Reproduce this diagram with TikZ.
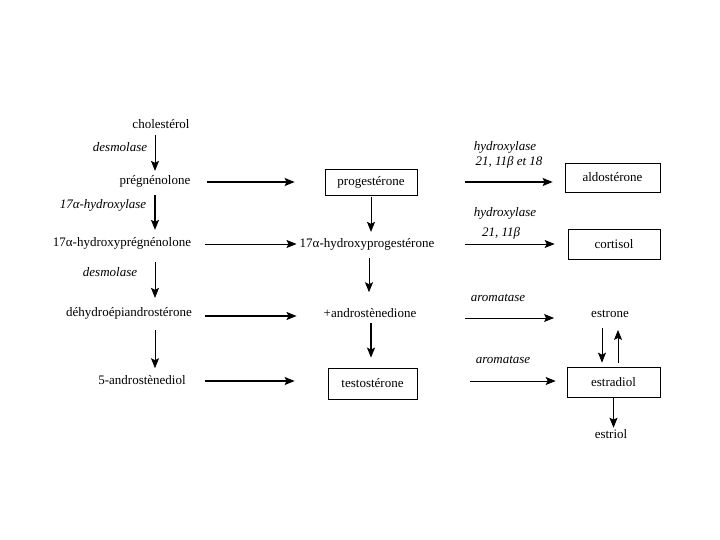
\documentclass[tikz,border=0pt]{standalone}
\usepackage{fontspec}
\setmainfont{Liberation Serif}
\usetikzlibrary{arrows.meta,calc}
\begin{document}
\begin{tikzpicture}[x=1pt,y=-1pt,
  txt/.style={inner sep=0pt,font=\fontsize{13}{15}\selectfont},
  lab/.style={inner sep=0pt,font=\fontsize{13}{15}\selectfont\itshape},
  boxn/.style={draw,line width=0.7pt,inner sep=0pt,font=\fontsize{13}{15}\selectfont},
  arr/.style={line width=0.8pt,-{Stealth[length=10pt,width=8pt,inset=2pt]}},
  arrk/.style={line width=1.5pt,-{Stealth[length=10pt,width=8pt,inset=2pt]}}]
\useasboundingbox (0,0) rectangle (720,540);
% left column
\node[txt] (chol) at (161,124) {cholestérol};
\node[txt] (preg) at (155,181) {prégnénolone};
\node[txt] (hpreg) at (122,243) {17α-hydroxyprégnénolone};
\node[txt] (dhea) at (129,313) {déhydroépiandrostérone};
\node[txt] (adiol) at (142,380) {5-androstènediol};
\coordinate (d1) at (155,262);
\node[lab] at (120,147) {desmolase};
\node[lab] at (103,205) {17α-hydroxylase};
\node[lab] at (110,272) {desmolase};
% middle column
\node[boxn,minimum width=92pt,minimum height=26pt] (prog) at (371,182) {progestérone};
\node[txt] (hprog) at (367,244) {17α-hydroxyprogestérone};
\node[txt] (adione) at (370,313) {+androstènedione};
\node[boxn,minimum width=89pt,minimum height=31pt] (testo) at (372.5,383.5) {testostérone};
% right column
\node[boxn,minimum width=95pt,minimum height=29pt] (aldo) at (612.5,177.5) {aldostérone};
\node[boxn,minimum width=92pt,minimum height=30pt] (cort) at (614,244) {cortisol};
\node[txt] (estrone) at (610,314) {estrone};
\node[boxn,minimum width=93pt,minimum height=30pt] (estradiol) at (613.5,382) {estradiol};
\node[txt] (estriol) at (611,434) {estriol};
% enzyme labels right
\node[lab] at (505,147) {hydroxylase};
\node[lab] at (509,162) {21, 11β et 18};
\node[lab] at (505,213) {hydroxylase};
\node[lab] at (501,233) {21, 11β};
\node[lab] at (498,298) {aromatase};
\node[lab] at (503,360) {aromatase};
% vertical arrows left
\draw[arr] ($(preg.north |- chol.south)+(0,6)$) -- ($(preg.north)+(0,-4)$);
\draw[arrk] ($(preg.south)+(0,8)$) -- ($(preg.south |- hpreg.north)+(0,-7)$);
\draw[arr] (d1) -- ($(d1 |- dhea.north)+(0,-9)$);
\draw[arr] ($(d1 |- dhea.south)+(0,11)$) -- ($(d1 |- adiol.north)+(0,-7)$);
% vertical arrows middle
\draw[arr] ($(prog.south)+(0,2)$) -- ($(prog.south |- hprog.north)+(0,-6)$);
\draw[arr] ($(369,0 |- hprog.south)+(0,8)$) -- ($(369,0 |- adione.north)+(0,-16)$);
\draw[arrk] ($(testo.north |- adione.south)+(-1.5,5)$) -- ($(testo.north)+(-1.5,-10)$);
% horizontal arrows left
\draw[arrk] ($(preg.east)+(16,1)$) -- ($(prog.west)+(-30,0)$);
\draw[arr] ($(hpreg.east)+(14,1)$) -- ($(hprog.west)+(-3,0)$);
\draw[arrk] ($(dhea.east)+(13,3)$) -- ($(adione.west)+(-27,3)$);
\draw[arrk] ($(adiol.east)+(19,1)$) -- ($(testo.west)+(-33,-2.5)$);
% horizontal arrows right
\draw[arrk] ($(prog.east)+(48,0)$) -- ($(aldo.west |- prog.east)+(-12,0)$);
\draw[arr] ($(hprog.east)+(30,0)$) -- ($(cort.west)+(-13,0)$);
\draw[arr] ($(adione.east)+(49,5)$) -- ($(estrone.west)+(-37,4)$);
\draw[arr] ($(testo.east)+(53,-2.5)$) -- ($(estradiol.west)+(-11,-1)$);
% estrone / estradiol / estriol
\draw[arr] ($(602,0 |- estrone.south)+(0,10)$) -- ($(602,0 |- estradiol.north)+(0,-4)$);
\draw[arr] ($(618,0 |- estradiol.north)+(0,-4)$) -- ($(618,0 |- estrone.south)+(0,12)$);
\draw[arr] (estradiol.south) -- ($(estradiol.south |- estriol.north)+(0,-1.5)$);
\end{tikzpicture}
\end{document}
